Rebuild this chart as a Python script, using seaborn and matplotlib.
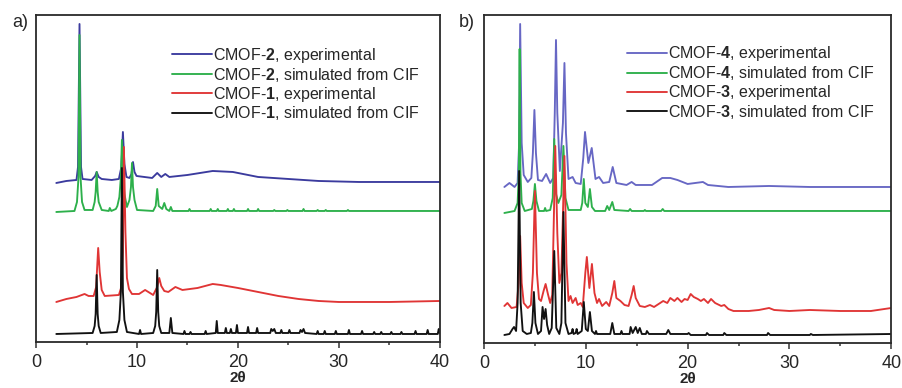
import matplotlib

matplotlib.use("Agg")
import matplotlib.pyplot as plt
import numpy as np
import pandas as pd
import seaborn as sns

# ---- panel a: CMOF-1 / CMOF-2 powder patterns (2theta, offset intensity) ----
a_blue_x = [2.0, 3.0, 4.0, 4.15, 4.3, 4.45, 4.6, 5.5, 5.85, 6.0, 6.2, 6.5, 7.5, 8.2, 8.45, 8.6, 8.75, 8.95, 9.25,
            9.45, 9.6, 9.75, 9.95, 11.5, 12.0, 12.4, 12.8, 13.2, 15.0, 17.5, 19.5, 22.0, 25.0, 28.0, 32.0, 40.0]
a_blue_y = [159, 161, 162, 175, 318, 175, 163, 162, 166, 170, 165, 163, 162, 163, 175, 210, 178, 165, 164,
            168, 180, 170, 166, 164, 169, 165, 168, 165, 167, 171, 170, 165, 163, 161, 160, 160]

a_green_x = [2.0, 3.8, 4.05, 4.2, 4.3, 4.4, 4.55, 4.8, 5.6, 5.8, 5.9, 6.0, 6.1, 6.2, 6.5, 7.2, 7.3, 7.45, 7.9,
             8.05, 8.25, 8.4, 8.5, 8.6, 8.75, 9.0, 9.25, 9.4, 9.5, 9.6, 9.75, 10.0, 11.6, 11.85, 12.0, 12.15,
             12.5, 12.7, 12.9, 13.2, 13.35, 13.5, 15.1, 15.2, 15.3, 17.2, 17.3, 17.4, 17.9, 18.0, 18.1, 18.9,
             19.0, 19.1, 19.5, 19.6, 19.7, 20.9, 21.0, 21.1, 21.9, 22.0, 22.1, 23.5, 23.6, 23.7, 24.8, 24.9,
             25.0, 26.4, 26.5, 26.6, 27.8, 27.9, 28.0, 28.6, 28.7, 28.8, 30.8, 30.9, 31.0, 40.0]
a_green_y = [130, 131, 140, 165, 307, 165, 140, 132, 132, 140, 150, 170, 150, 140, 132, 131, 134, 131, 133,
             136, 145, 165, 202, 165, 148, 135, 142, 155, 179, 155, 142, 132, 131, 136, 153, 136,
             133, 139, 133, 131, 135, 131, 131, 133, 131, 131, 133, 131, 131, 133, 131, 131,
             133, 131, 131, 133, 131, 131, 133, 131, 131, 133, 131, 131, 132, 131, 131, 132,
             131, 131, 133, 131, 131, 132, 131, 131, 132, 131, 131, 132, 131, 131]

a_red_x = [2.0, 3.0, 4.0, 4.8, 5.2, 5.7, 5.95, 6.05, 6.15, 6.3, 6.5, 6.8, 8.2, 8.45, 8.6, 8.7, 8.85, 9.0, 9.2,
           9.5, 10.2, 10.8, 11.6, 12.0, 12.2, 12.4, 12.7, 13.1, 13.8, 14.5, 16.0, 17.5, 18.3, 20.0, 22.0,
           24.0, 26.0, 28.0, 30.0, 35.0, 40.0]
a_red_y = [40, 43, 45, 48, 46, 46, 55, 75, 94, 70, 52, 46, 47, 55, 90, 195, 110, 64, 53,
           48, 48, 52, 47, 55, 64, 56, 51, 50, 55, 52, 54, 58, 57, 54, 50,
           46, 43, 41, 40, 40, 41]

a_black_x = [2.0, 5.6, 5.8, 5.9, 6.0, 6.1, 6.2, 6.4, 8.0, 8.25, 8.4, 8.5, 8.6, 8.75, 9.0, 10.2, 10.3, 10.4,
             11.6, 11.8, 11.9, 12.0, 12.1, 12.2, 12.4, 13.2, 13.35, 13.5, 14.6, 14.7, 14.8, 15.2, 15.3,
             15.4, 16.7, 16.8, 16.9, 17.8, 17.9, 18.0, 18.7, 18.8, 18.9, 19.2, 19.3, 19.4, 19.8, 19.9,
             20.0, 20.9, 21.0, 21.1, 21.8, 21.9, 22.0, 23.2, 23.3, 23.45, 23.6, 23.75, 24.2, 24.3, 24.4,
             25.0, 25.1, 25.2, 26.1, 26.2, 26.35, 26.5, 26.65, 27.8, 27.9, 28.0, 28.5, 28.6, 28.7, 29.6,
             29.7, 29.8, 30.9, 31.0, 31.1, 32.2, 32.3, 32.4, 33.4, 33.5, 33.6, 34.1, 34.2, 34.3, 35.1,
             35.2, 35.3, 36.1, 36.2, 36.3, 37.5, 37.6, 37.7, 38.7, 38.8, 38.9, 39.8, 39.9, 40.0]
a_black_y = [8, 9, 16, 28, 67, 28, 16, 9, 10, 22, 50, 174, 50, 22, 10, 8, 12, 8,
             9, 16, 30, 72, 30, 16, 9, 9, 24, 9, 8, 11, 8, 8, 10,
             8, 8, 11, 8, 9, 21, 9, 9, 14, 9, 9, 13, 9, 9, 17,
             9, 9, 15, 9, 9, 14, 9, 9, 13, 11, 13, 9, 9, 12, 9,
             9, 12, 9, 9, 12, 10, 13, 9, 8, 11, 8, 8, 11, 8, 8,
             11, 8, 8, 12, 8, 8, 11, 8, 8, 10, 8, 8, 10, 8, 8,
             10, 8, 8, 10, 8, 8, 11, 8, 8, 12, 8, 8, 13, 9]

# ---- panel b: CMOF-3 / CMOF-4 ----
b_blue_x = [2.0, 2.5, 3.0, 3.3, 3.45, 3.55, 3.7, 3.9, 4.3, 4.65, 4.8, 4.95, 5.1, 5.3, 5.7, 6.1, 6.5, 6.8,
            6.95, 7.07, 7.2, 7.45, 7.75, 7.9, 8.05, 8.3, 8.7, 9.0, 9.5, 9.75, 9.92, 10.25, 10.58, 10.95, 11.3,
            11.7, 12.3, 12.64, 13.0, 14.0, 14.5, 14.9, 16.5, 17.5, 18.3, 19.0, 20.0, 21.5, 22.0, 24.0, 28.0,
            32.0, 40.0]
b_blue_y = [156, 160, 156, 160, 200, 319, 200, 168, 161, 165, 190, 233, 190, 163, 162, 169, 160, 165,
            230, 303, 230, 172, 220, 280, 210, 164, 166, 160, 159, 185, 211, 180, 195, 164, 166,
            160, 161, 176, 160, 158, 161, 158, 158, 165, 165, 163, 159, 161, 158, 156, 157,
            156, 156]

b_green_x = [2.0, 3.0, 3.3, 3.42, 3.5, 3.58, 3.7, 4.0, 4.7, 4.85, 5.0, 5.15, 5.4, 5.9, 6.0, 6.1, 6.5, 6.75,
             6.9, 7.05, 7.3, 7.6, 7.8, 8.0, 8.3, 9.5, 9.65, 9.8, 9.95, 10.2, 10.4, 10.6, 10.9, 11.9, 12.1,
             12.3, 12.6, 12.8, 14.2, 14.35, 14.5, 15.7, 15.8, 15.9, 17.4, 17.55, 17.7, 20.0, 40.0]
b_green_y = [130, 132, 140, 170, 294, 170, 140, 132, 134, 142, 159, 142, 132, 132, 135, 132, 133, 145,
             204, 150, 140, 148, 197, 145, 133, 133, 140, 164, 140, 136, 154, 136, 132, 132, 137,
             133, 141, 133, 132, 134, 132, 132, 133, 132, 132, 134, 132, 132, 132]

b_red_x = [2.0, 2.3, 2.7, 3.2, 3.4, 3.55, 3.7, 3.9, 4.3, 4.6, 4.8, 5.0, 5.2, 5.4, 5.6, 5.85, 6.05, 6.3, 6.5,
           6.7, 6.85, 7.0, 7.2, 7.4, 7.6, 7.9, 8.1, 8.3, 8.5, 8.7, 9.0, 9.2, 9.5, 9.7, 9.95, 10.1, 10.35,
           10.6, 10.85, 11.1, 11.3, 11.6, 12.0, 12.3, 12.6, 12.8, 13.0, 13.4, 13.8, 14.2, 14.5, 14.7, 14.9,
           15.3, 15.8, 16.3, 16.7, 17.3, 17.6, 18.0, 18.3, 18.7, 19.0, 19.4, 19.7, 20.0, 20.3, 20.6, 21.0,
           21.3, 21.6, 22.0, 22.3, 22.7, 23.3, 23.6, 24.0, 24.5, 26.0, 27.0, 28.0, 28.5, 30.0, 32.0, 35.0,
           38.0, 40.0]
b_red_y = [37, 40, 35, 36, 60, 107, 60, 40, 35, 38, 70, 152, 70, 44, 42, 52, 59, 48, 40,
           48, 120, 197, 110, 60, 70, 187, 80, 42, 47, 40, 45, 38, 40, 36, 70, 86, 55,
           79, 50, 40, 44, 37, 41, 37, 50, 62, 45, 42, 38, 37, 48, 57, 45,
           37, 36, 38, 36, 40, 42, 40, 45, 42, 45, 41, 44, 43, 49, 46, 44,
           42, 44, 40, 44, 40, 37, 38, 34, 32, 32, 33, 35, 33, 32, 33, 32,
           32, 35]

b_black_x = [2.0, 2.5, 2.8, 2.95, 3.15, 3.3, 3.45, 3.6, 3.8, 4.2, 4.6, 4.75, 4.9, 5.05, 5.3, 5.6, 5.75, 5.9,
             6.05, 6.2, 6.4, 6.65, 6.9, 7.1, 7.4, 7.6, 7.8, 8.0, 8.3, 8.6, 8.7, 8.8, 9.0, 9.1, 9.2, 9.6,
             9.8, 10.0, 10.2, 10.4, 10.6, 10.9, 11.0, 11.1, 12.4, 12.6, 12.8, 13.4, 13.5, 13.6, 14.3, 14.4,
             14.6, 14.9, 15.1, 15.3, 15.5, 15.9, 16.0, 16.2, 17.9, 18.1, 18.3, 20.0, 20.1, 20.3, 21.8, 21.9,
             22.1, 23.5, 23.6, 23.8, 27.8, 27.9, 28.1, 32.0, 32.1, 32.3, 40.0]
b_black_y = [8, 9, 14, 16, 12, 40, 172, 40, 12, 9, 10, 20, 51, 20, 9, 12, 36, 24,
             34, 18, 9, 15, 92, 15, 9, 20, 131, 20, 9, 10, 14, 9, 10, 14, 9, 12,
             41, 14, 12, 31, 12, 9, 12, 9, 9, 20, 9, 9, 12, 9, 9, 16,
             10, 16, 10, 15, 9, 9, 12, 9, 9, 13, 9, 9, 10, 8, 8, 10,
             8, 8, 10, 8, 8, 10, 8, 8, 9, 8, 9]

a_labels = ["CMOF-$\\mathbf{2}$, experimental", "CMOF-$\\mathbf{2}$, simulated from CIF",
            "CMOF-$\\mathbf{1}$, experimental", "CMOF-$\\mathbf{1}$, simulated from CIF"]
b_labels = ["CMOF-$\\mathbf{4}$, experimental", "CMOF-$\\mathbf{4}$, simulated from CIF",
            "CMOF-$\\mathbf{3}$, experimental", "CMOF-$\\mathbf{3}$, simulated from CIF"]
x_ticks = [0, 10, 20, 30, 40]

sns.set_style("white")
plt.rcParams["font.family"] = ["Liberation Sans", "DejaVu Sans"]
plt.rcParams["mathtext.fontset"] = "custom"
plt.rcParams["mathtext.rm"] = "Liberation Sans"
plt.rcParams["mathtext.bf"] = "Liberation Sans:bold"


def build_frame(labels, series):
    parts = []
    for label, (xs, ys) in zip(labels, series):
        parts.append(pd.DataFrame({"two_theta": xs, "intensity": ys, "series": label}))
    return pd.concat(parts, ignore_index=True)


def draw_panel(ax, frame, labels, colors, ytop, legend_anchor):
    sns.lineplot(data=frame, x="two_theta", y="intensity", hue="series", hue_order=labels,
                 palette=dict(zip(labels, colors)), estimator=None, sort=False, linewidth=1.35, ax=ax)
    ax.set_xlim(0, 40)
    ax.set_ylim(0, ytop)
    ax.set_yticks([])
    ax.set_ylabel("")
    ax.set_xticks(x_ticks)
    ax.set_xticks([5, 15, 25, 35], minor=True)
    ax.tick_params(axis="x", which="major", direction="out", length=4, width=1.1, pad=4.5,
                   labelsize=13, bottom=True, color="#333333")
    ax.tick_params(axis="x", which="minor", direction="out", length=2.5, width=1.1, bottom=True,
                   color="#333333")
    ax.set_xlabel("2θ", fontsize=11, fontweight="bold", labelpad=0)
    for spine in ax.spines.values():
        spine.set_visible(True)
        spine.set_color("#2a2a2a")
        spine.set_linewidth(1.3)
    handles, names = ax.get_legend_handles_labels()
    ax.legend(handles, names, loc="upper left", bbox_to_anchor=legend_anchor, frameon=False,
              fontsize=11.5, handlelength=2.5, handletextpad=0.05, labelspacing=0.05,
              borderpad=0, borderaxespad=0)


fig = plt.figure(figsize=(9.03, 3.88), dpi=100)
ax_a = fig.add_axes([0.040, 0.1186, 0.447, 0.8428])
ax_b = fig.add_axes([0.536, 0.1160, 0.451, 0.8454])

frame_a = build_frame(a_labels, [(a_blue_x, a_blue_y), (a_green_x, a_green_y),
                                 (a_red_x, a_red_y), (a_black_x, a_black_y)])
frame_b = build_frame(b_labels, [(b_blue_x, b_blue_y), (b_green_x, b_green_y),
                                 (b_red_x, b_red_y), (b_black_x, b_black_y)])

draw_panel(ax_a, frame_a, a_labels, ["#3b3b9e", "#2db04b", "#e03535", "#111111"], 327, (0.337, 0.905))
draw_panel(ax_b, frame_b, b_labels, ["#6767c4", "#2db04b", "#e03535", "#111111"], 328, (0.351, 0.91))

fig.text(0.022, 0.943, "a)", fontsize=13, ha="center", va="center")
fig.text(0.517, 0.943, "b)", fontsize=13, ha="center", va="center")

fig.savefig("out.png", dpi=100)
plt.close(fig)
